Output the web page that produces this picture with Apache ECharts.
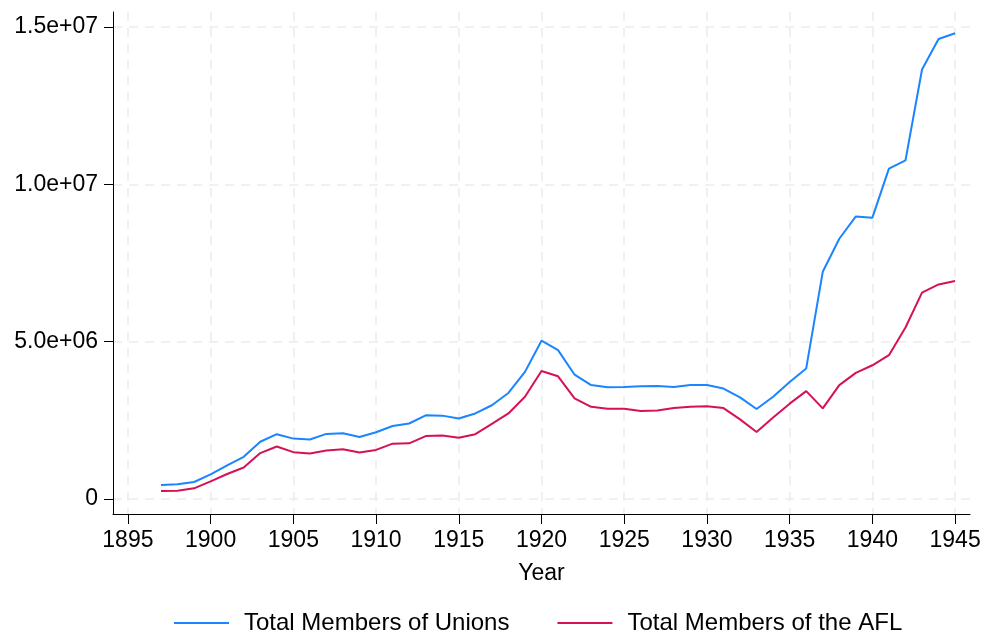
<!DOCTYPE html>
<html>
<head>
<meta charset="utf-8">
<script src="https://cdn.jsdelivr.net/npm/echarts@6/dist/echarts.min.js"></script>
<style>
  html, body { margin: 0; padding: 0; background: #fff; }
  #chart { width: 987px; height: 637px; }
</style>
</head>
<body>
<div id="chart"></div>
<script>
var years = [1897, 1898, 1899, 1900, 1901, 1902, 1903, 1904, 1905, 1906,
    1907, 1908, 1909, 1910, 1911, 1912, 1913, 1914, 1915, 1916,
    1917, 1918, 1919, 1920, 1921, 1922, 1923, 1924, 1925, 1926,
    1927, 1928, 1929, 1930, 1931, 1932, 1933, 1934, 1935, 1936,
    1937, 1938, 1939, 1940, 1941, 1942, 1943, 1944, 1945];

// total members of unions
var unions = [444000, 466000, 540000, 783000, 1070000, 1340000, 1820000, 2060000, 1920000, 1890000,
    2070000, 2090000, 1970000, 2120000, 2320000, 2400000, 2660000, 2650000, 2560000, 2720000,
    2980000, 3370000, 4040000, 5030000, 4730000, 3950000, 3620000, 3550000, 3560000, 3580000,
    3590000, 3560000, 3620000, 3620000, 3510000, 3230000, 2860000, 3250000, 3720000, 4150000,
    7220000, 8270000, 8980000, 8940000, 10500000, 10760000, 13650000, 14620000, 14800000];

// total members of the AFL
var afl = [254000, 265000, 339000, 561000, 794000, 1000000, 1460000, 1670000, 1490000, 1450000,
    1540000, 1580000, 1480000, 1560000, 1760000, 1770000, 2000000, 2020000, 1950000, 2060000,
    2390000, 2720000, 3250000, 4070000, 3900000, 3200000, 2930000, 2870000, 2870000, 2800000,
    2810000, 2890000, 2930000, 2950000, 2890000, 2530000, 2130000, 2590000, 3030000, 3430000,
    2880000, 3620000, 4010000, 4250000, 4570000, 5450000, 6560000, 6820000, 6930000];

var xTicks = [1895, 1900, 1905, 1910, 1915, 1920, 1925, 1930, 1935, 1940, 1945];
var yTicks = [0, 5000000, 10000000, 15000000];

var font = 'Liberation Sans, Arial, Helvetica, sans-serif';

function pairs(vals) {
    var out = [];
    for (var i = 0; i < years.length; i++) {
        out.push([years[i], vals[i]]);
    }
    return out;
}

function sci(v) {
    if (v === 0) return '0';
    return v.toExponential(1).replace(/e([+-])(\d)$/, 'e$10$2');
}

var myChart = echarts.init(document.getElementById('chart'));

var option = {
    backgroundColor: '#ffffff',
    animation: false,
    grid: {
        left: 113,
        right: 17,
        top: 12,
        bottom: 123
    },
    legend: {
        data: ['Total Members of Unions', 'Total Members of the AFL'],
        left: 174,
        top: 611,
        padding: 0,
        icon: 'rect',
        itemWidth: 55,
        itemHeight: 2,
        itemGap: 48,
        textStyle: {
            fontFamily: font,
            fontSize: 24,
            color: '#000',
            padding: [0, 0, 0, 10]
        }
    },
    xAxis: {
        type: 'value',
        min: 1894.1,
        max: 1945.9,
        name: 'Year',
        nameLocation: 'middle',
        nameGap: 48,
        nameTextStyle: {
            fontFamily: font,
            fontSize: 23,
            color: '#000'
        },
        axisLine: { show: true, onZero: false, lineStyle: { color: '#000', width: 1 } },
        axisTick: {
            show: true,
            length: 10,
            customValues: xTicks,
            lineStyle: { color: '#000', width: 1 }
        },
        axisLabel: {
            customValues: xTicks,
            margin: 15,
            fontFamily: font,
            fontSize: 23,
            color: '#000',
            formatter: function (v) { return String(v); }
        },
        splitLine: {
            show: true,
            lineStyle: { color: '#ebebeb', width: 1.5, type: [9, 7] }
        }
    },
    yAxis: {
        type: 'value',
        min: -476000,
        max: 15476000,
        axisLine: { show: true, onZero: false, lineStyle: { color: '#000', width: 1 } },
        axisTick: {
            show: true,
            length: 9,
            customValues: yTicks,
            lineStyle: { color: '#000', width: 1 }
        },
        axisLabel: {
            customValues: yTicks,
            margin: 15,
            fontFamily: font,
            fontSize: 23,
            color: '#000',
            formatter: sci
        },
        splitLine: {
            show: true,
            lineStyle: { color: '#ebebeb', width: 1.5, type: [9, 7] }
        }
    },
    series: [{
        name: 'Total Members of Unions',
        type: 'line',
        data: pairs(unions),
        showSymbol: false,
        symbol: 'none',
        lineStyle: { color: '#1A85FF', width: 2 },
        itemStyle: { color: '#1A85FF' }
    }, {
        name: 'Total Members of the AFL',
        type: 'line',
        data: pairs(afl),
        showSymbol: false,
        symbol: 'none',
        lineStyle: { color: '#D41159', width: 2 },
        itemStyle: { color: '#D41159' }
    }]
};

myChart.setOption(option);
</script>
</body>
</html>
